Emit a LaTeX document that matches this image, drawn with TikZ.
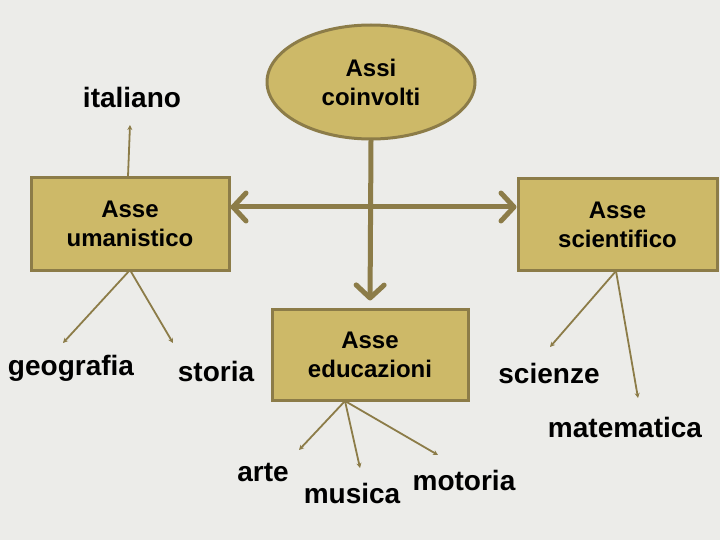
\documentclass[tikz,border=0pt]{standalone}
\usepackage{fontspec}
\setmainfont{Liberation Sans}
\usetikzlibrary{shapes.geometric,arrows.meta}
\definecolor{bg}{RGB}{236,236,233}
\definecolor{khaki}{RGB}{205,185,104}
\definecolor{olive}{RGB}{140,124,72}
\begin{document}
\begin{tikzpicture}[x=1pt,y=-1pt,
  box/.style={draw=olive,line width=3pt,fill=khaki,align=center,inner sep=0pt,
    font=\fontsize{24}{29}\selectfont\bfseries},
  lbl/.style={inner sep=0pt,font=\fontsize{28}{32}\selectfont\bfseries},
  thinarrow/.style={draw=olive,line width=1.8pt,-{Stealth[length=5pt,width=5pt]}},
  thickarrow/.style={draw=olive,line width=5pt,line cap=round,
    arrows={-Straight Barb[length=13pt,width=28pt,line cap=round,line join=round]}}]
\fill[bg] (0,0) rectangle (720,540);
\useasboundingbox (0,0) rectangle (720,540);
% main nodes
\node[box,ellipse,minimum width=208pt,minimum height=114pt] (assi) at (371,82) {Assi\\coinvolti};
\node[box,minimum width=198pt,minimum height=92pt] (uman) at (130,224) {Asse\\umanistico};
\node[box,minimum width=199pt,minimum height=91pt] (sci) at (617.5,224.5) {Asse\\scientifico};
\node[box,minimum width=196pt,minimum height=91pt] (edu) at (370,354.5) {Asse\\educazioni};
% labels
\node[lbl] (ita) at (132,97) {italiano};
\node[lbl] (geo) at (71,368) {geografia};
\node[lbl] (sto) at (216,371) {storia};
\node[lbl] (scz) at (549,373) {scienze};
\node[lbl] (mat) at (625,427) {matematica};
\node[lbl] (art) at (263,473) {arte};
\node[lbl] (mus) at (352,493) {musica};
\node[lbl] (mot) at (464,480) {motoria};
% coordinates
\coordinate (hl) at (370,207);
\coordinate (itaE) at (130,125);
\coordinate (umB) at (130,270);
\coordinate (geoE) at (63,343);
\coordinate (stoE) at (173,343);
\coordinate (sciB) at (616,271);
\coordinate (sczE) at (550,347);
\coordinate (matE) at (638,398);
\coordinate (eduB) at (345,401);
\coordinate (artE) at (299,450);
\coordinate (musE) at (360,468);
\coordinate (motE) at (438,455);
% thick arrows
\draw[thickarrow] (hl) -- (uman.east |- hl);
\draw[thickarrow] (hl) -- (sci.west |- hl);
\draw[thickarrow,shorten >=7pt] (assi.south) -- (edu.north);
% thin arrows
\draw[thinarrow] (uman.north -| 128,0) -- (itaE);
\draw[thinarrow] (umB) -- (geoE);
\draw[thinarrow] (umB) -- (stoE);
\draw[thinarrow] (sciB) -- (sczE);
\draw[thinarrow] (sciB) -- (matE);
\draw[thinarrow] (eduB) -- (artE);
\draw[thinarrow] (eduB) -- (musE);
\draw[thinarrow] (eduB) -- (motE);
\end{tikzpicture}
\end{document}
